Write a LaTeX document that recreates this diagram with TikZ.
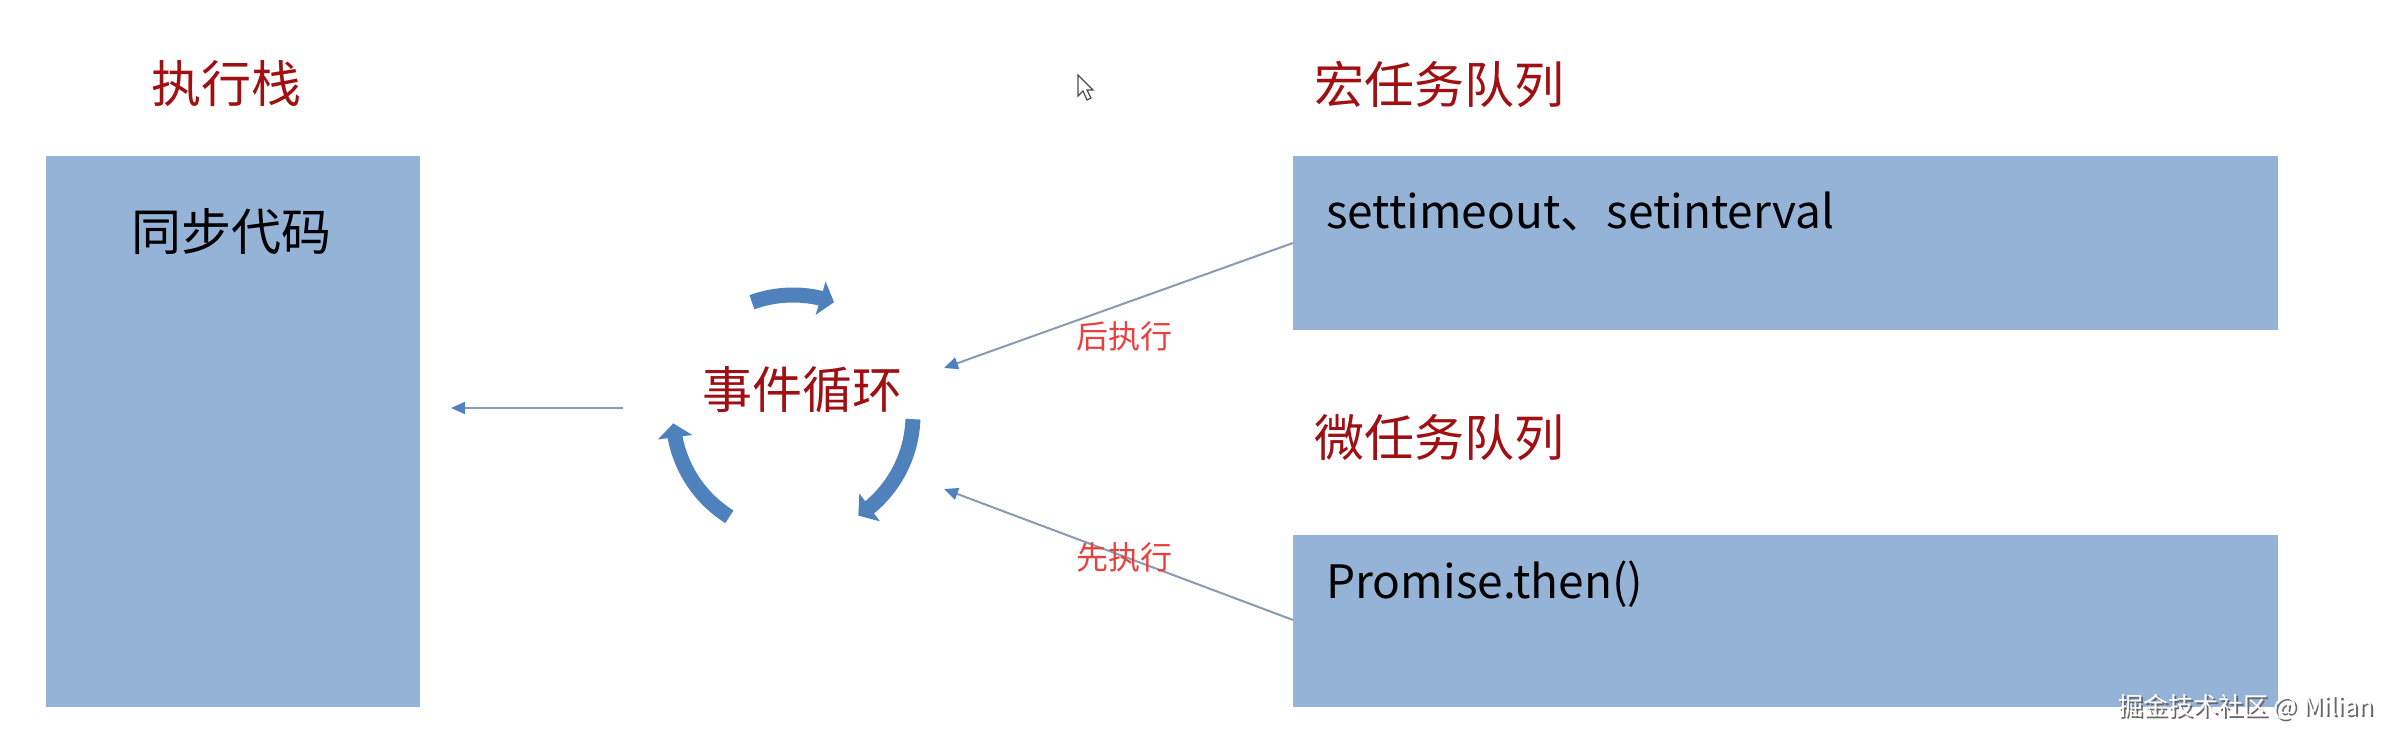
\documentclass[tikz,border=0pt]{standalone}
\usepackage{fontspec}
\setmainfont{Noto Sans CJK SC}
\usetikzlibrary{arrows.meta,bending}
\definecolor{boxblue}{HTML}{95B3D7}
\definecolor{darkred}{HTML}{A00F12}
\definecolor{labred}{HTML}{E8403F}
\definecolor{cycblue}{HTML}{4F81BD}
\definecolor{linegray}{HTML}{8A9AB0}
\tikzset{
  panel/.style={fill=boxblue, draw=none},
  title/.style={text=darkred, font=\fontsize{25pt}{30pt}\selectfont, inner sep=0pt},
  boxtext/.style={text=black, font=\fontsize{25pt}{30pt}\selectfont, inner sep=0pt},
  codetext/.style={text=black, font=\fontsize{23pt}{27pt}\selectfont, inner sep=0pt, anchor=west},
  steplabel/.style={text=labred, font=\fontsize{16pt}{19pt}\selectfont, inner sep=0pt},
  feed/.style={draw=linegray, line width=1pt, -{Triangle[width=6pt,length=7pt,color=cycblue]}},
  cyc/.style={draw=cycblue, line width=7.5pt, -{Triangle[width=17pt,length=7pt,flex]}},
}
\begin{document}
\begin{tikzpicture}[x=0.5pt,y=0.5pt]
\useasboundingbox (0,0) rectangle (2396,742);
% left stack
\path[panel] (46,586) rectangle (420,35);
\node[title] (t1) at (226,658) {执行栈};
\node[boxtext] (sync) at (231,510) {同步代码};
% right boxes
\path[panel] (1293,586) rectangle (2278,412);
\path[panel] (1293,207) rectangle (2278,35);
\node[coordinate] (macro) at (1293,499) {};
\node[coordinate] (micro) at (1293,122) {};
\node[title, anchor=west] (t2) at (1314,658) {宏任务队列};
\node[title, anchor=west] (t3) at (1314,304) {微任务队列};
\node[codetext] (m1) at (1326,531) {settimeout、setinterval};
\node[codetext] (m2) at (1326,158) {Promise.then()};
% event loop
\node[title] (loop) at (802,352) {事件循环};
\coordinate (c) at (793,327);
\draw[cyc] ([shift={(110:60pt)}]c) arc[start angle=110, end angle=70, radius=60pt];
\draw[cyc] ([shift={(-2:60pt)}]c) arc[start angle=-2, end angle=-57, radius=60pt];
\draw[cyc] ([shift={(238:60pt)}]c) arc[start angle=238, end angle=184, radius=60pt];
% connectors
\coordinate (a1) at (944,374);
\coordinate (a2) at (944,253);
\draw[feed] (macro) -- (a1);
\draw[feed] (micro) -- (a2);
\coordinate (l1) at (623,334);
\coordinate (l2) at (451,334);
\draw[feed] (l1) -- (l2);
\node[steplabel] (after) at (1124,406) {后执行};
\node[steplabel] (before) at (1124,185) {先执行};
% cursor
\draw[black!70, fill=white, line width=0.6pt, shift={(1078,667)}, yscale=-1]
  (0,0) -- (0,21) -- (5,16) -- (9,25) -- (13,23) -- (9,15) -- (15,15) -- cycle;
% watermark
\node[anchor=east, text=black!60, font=\fontsize{12.5pt}{15pt}\selectfont, inner sep=0pt] (wms) at (2376,33) {掘金技术社区 @ Milian};
\node[anchor=east, text=white, font=\fontsize{12.5pt}{15pt}\selectfont, inner sep=0pt] (wm) at (2374,35) {掘金技术社区 @ Milian};
\end{tikzpicture}
\end{document}
